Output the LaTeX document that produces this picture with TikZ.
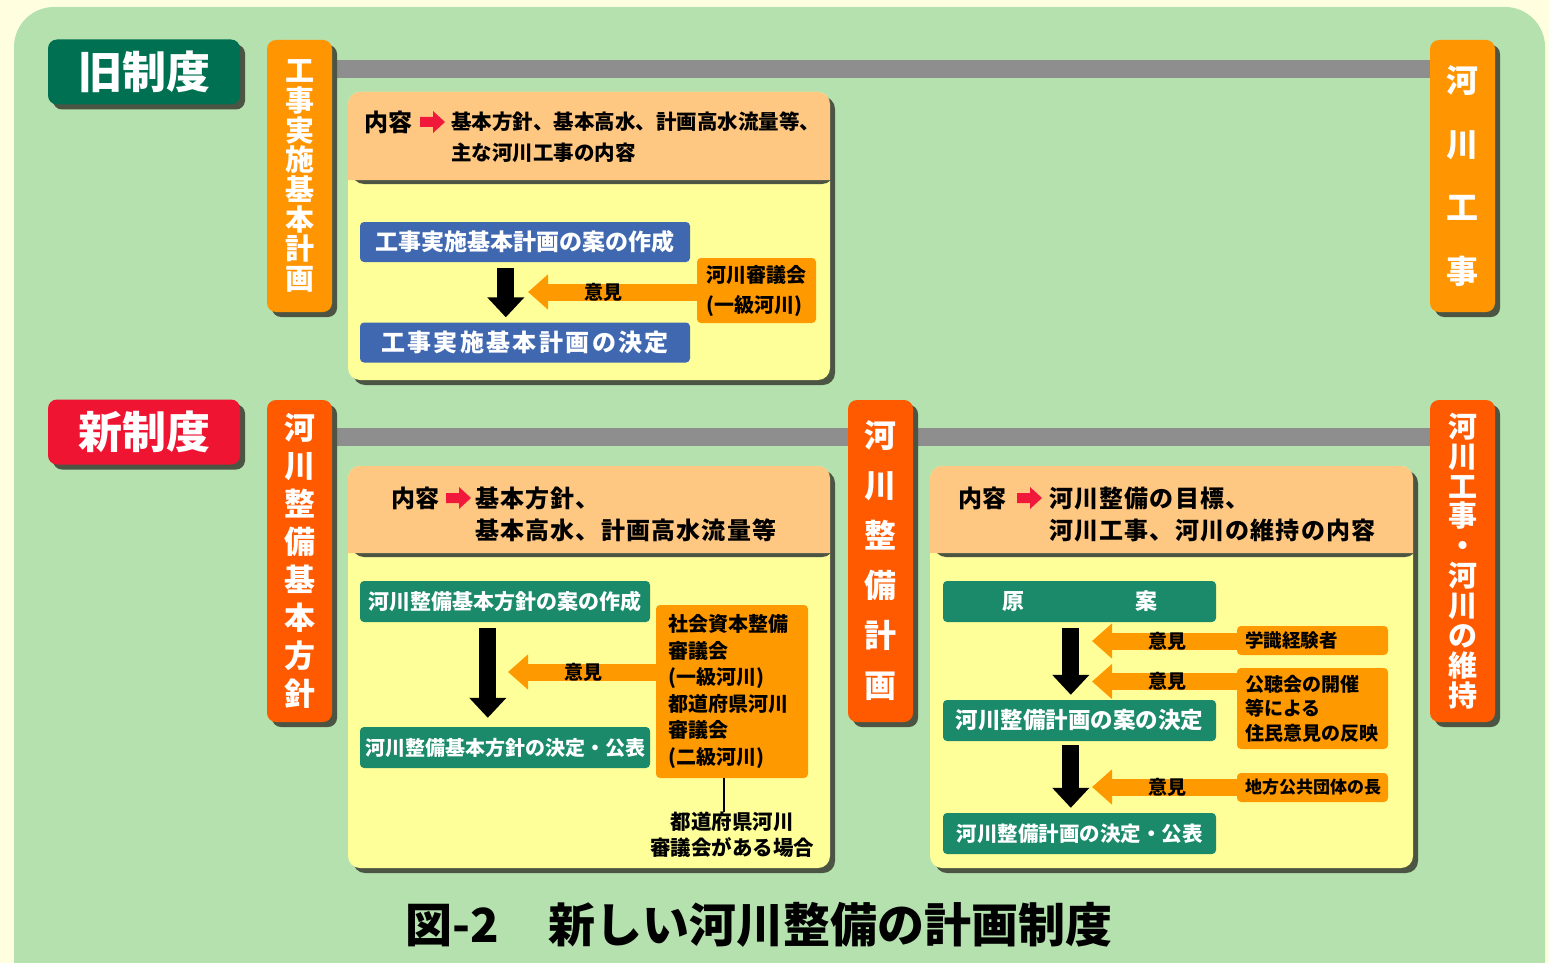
\documentclass[tikz,border=0pt]{standalone}
\usepackage{fontspec}
\setmainfont{Noto Sans CJK JP}
\usetikzlibrary{arrows.meta,shadows}
\definecolor{creamc}{HTML}{FFFFE0}
\definecolor{bgc}{HTML}{B5E1AE}
\definecolor{oldc}{HTML}{007052}
\definecolor{newc}{HTML}{EE1432}
\definecolor{tabo}{HTML}{FF9500}
\definecolor{tabr}{HTML}{FF5A00}
\definecolor{peachc}{HTML}{FFC882}
\definecolor{yelc}{HTML}{FFFF99}
\definecolor{bluec}{HTML}{4068B0}
\definecolor{greenc}{HTML}{1A8A6A}
\definecolor{orc}{HTML}{FF9900}
\definecolor{grayc}{HTML}{8E8E8E}
\definecolor{shadc}{HTML}{4C5544}
\definecolor{redc}{HTML}{F0193C}
\newcommand\fs[2]{\fontsize{#1}{#2}\selectfont}
\newcommand\hdrarrow[2]{\fill[redc] (#1,#2) ++(0,-5) -- ++(13,0) -- ++(0,-6) -- ++(12,11) -- ++(-12,11) -- ++(0,-6) -- ++(-13,0) -- cycle;}
\newcommand\panel[5]{%
  \fill[shadc, rounded corners=12pt] (#1+5,#2+5) rectangle (#3+5,#4+5);
  \fill[yelc, rounded corners=12pt] (#1,#2) rectangle (#3,#4);
  \fill[shadc, rounded corners=12pt] (#1+4,#2+4) rectangle (#3+4,#5+4);
  \fill[peachc] (#1,#5) [rounded corners=12pt] -- (#1,#2) -- (#3,#2) [sharp corners] -- (#3,#5) -- cycle;}
\pgfdeclarelayer{back}
\pgfdeclarelayer{lines}
\pgfsetlayers{back,lines,main}
\tikzset{
 sh/.style={drop shadow={shadow xshift=5pt,shadow yshift=-5pt,opacity=1,fill=shadc}},
 badge/.style={sh, rounded corners=9pt, minimum width=192pt, minimum height=65pt, inner sep=0pt, text=white, font=\fs{44}{44}\bfseries},
 vtab/.style={sh, rounded corners=9pt, minimum width=65pt, inner sep=0pt, text=white, align=center},
 flow/.style={rounded corners=4pt, inner sep=0pt, text=white},
 obox/.style={fill=orc, rounded corners=4pt, inner sep=0pt, align=left},
 karrow/.style={draw=black, line width=17pt, -{Triangle[width=36pt,length=20pt]}},
 oarrow/.style={draw=orc, line width=17pt, -{Triangle[width=34pt,length=20pt]}},
 iken/.style={font=\fs{19}{19}\bfseries, inner sep=0pt},
 hdr/.style={align=left, anchor=west, inner sep=0pt},
 gline/.style={draw=grayc, line width=18pt},
}
\begin{document}
\begin{tikzpicture}[x=1pt,y=-1pt]
\useasboundingbox (0,0) rectangle (1549,963);
\clip (0,0) rectangle (1549,963);
\begin{pgfonlayer}{back}
\fill[creamc] (0,0) rectangle (1549,963);
\fill[bgc, rounded corners=40pt] (14,7) rectangle (1545,1010);
\end{pgfonlayer}

% badges
\node[badge, fill=oldc] (old) at (144,72) {旧制度};
\node[badge, fill=newc] (new) at (144,432) {新制度};

% tabs
\node[vtab, fill=tabo, minimum height=272pt, font=\fs{29}{29.7}\bfseries] (t1) at (299.5,176) {工\\事\\実\\施\\基\\本\\計\\画};
\node[vtab, fill=tabo, minimum height=272pt, font=\fs{32}{63.7}\bfseries] (t2) at (1462.5,176) {河\\川\\工\\事};
\node[vtab, fill=tabr, minimum height=322pt, font=\fs{31}{38}\bfseries] (t3) at (299.5,561) {河\\川\\整\\備\\基\\本\\方\\針};
\node[vtab, fill=tabr, minimum height=322pt, font=\fs{32}{50}\bfseries] (t4) at (880.5,561) {河\\川\\整\\備\\計\\画};
\node[vtab, fill=tabr, minimum height=322pt, font=\fs{29}{29.9}\bfseries] (t5) at (1462.5,561) {河\\川\\工\\事\\・\\河\\川\\の\\維\\持};

\begin{pgfonlayer}{lines}
\draw[gline] ([yshift=-29pt]t1.north east) -- ([yshift=-29pt]t2.north west);
\draw[gline] ([yshift=-37pt]t3.north east) -- ([yshift=-37pt]t4.north west);
\draw[gline] ([yshift=-37pt]t4.north east) -- ([yshift=-37pt]t5.north west);
\end{pgfonlayer}

% ---------- panel 1 (old system)
\panel{348}{92}{830}{380}{180}
\node[hdr, font=\fs{24}{24}\bfseries] (h1a) at (364,122) {内容};
\hdrarrow{420}{122}
\node[hdr, font=\fs{20.5}{31}\bfseries] (h1b) at (451,137.5) {基本方針、基本高水、計画高水流量等、\\主な河川工事の内容};

\node[flow, fill=bluec, minimum width=330pt, minimum height=40pt, font=\fs{23}{23}\bfseries] (b1) at (525,242) {工事実施基本計画の案の作成};
\node[flow, fill=bluec, minimum width=330pt, minimum height=40pt, font=\fs{24}{24}\bfseries\addfontfeature{LetterSpace=10}] (b2) at (525,342.5) {工事実施基本計画の決定};
\node[obox, minimum width=119pt, minimum height=65pt, inner xsep=6pt, font=\fs{20}{30}\bfseries] (c1) at (756.5,290.5) {河川審議会\\(一級河川)};
\draw[karrow] ([xshift=146pt,yshift=-6pt]b1.south west) -- ([xshift=146pt,yshift=5pt]b2.north west);
\coordinate (tip1) at (528,292);
\draw[oarrow] (c1.west |- tip1) -- (tip1);
\node[iken] (ik1) at (603,292) {意見};

% ---------- panel 2 (basic policy)
\panel{348}{466}{830}{868}{553}
\node[hdr, font=\fs{24}{24}\bfseries] (h2a) at (391,498) {内容};
\hdrarrow{446}{498}
\node[hdr, font=\fs{24}{32}\bfseries\addfontfeature{LetterSpace=5}] (h2b) at (475,514) {基本方針、\\基本高水、計画高水流量等};

\node[flow, fill=greenc, minimum width=290pt, minimum height=41pt, font=\fs{21}{21}\bfseries] (g1) at (505,601.5) {河川整備基本方針の案の作成};
\node[flow, fill=greenc, minimum width=290pt, minimum height=41pt, font=\fs{20}{20}\bfseries] (g2) at (505,747.5) {河川整備基本方針の決定・公表};
\node[obox, minimum width=152pt, minimum height=173pt, text width=128pt, inner xsep=12pt, font=\fs{20}{26.6}\bfseries] (c2) at (732,691.5) {社会資本整備\\審議会\\(一級河川)\\都道府県河川\\審議会\\(二級河川)};
\draw[karrow] ([xshift=128pt,yshift=-6pt]g1.south west) -- ([xshift=128pt,yshift=9pt]g2.north west);
\coordinate (tip2) at (508,672);
\draw[oarrow] (c2.west |- tip2) -- (tip2);
\node[iken] (ik2) at (583,672) {意見};
\node[font=\fs{20.5}{26}\bfseries, align=center, inner sep=0pt] (note) at (732,835) {都道府県河川\\審議会がある場合};
\coordinate (ls) at ([xshift=68pt]c2.south west);
\draw[line width=2.5pt] (ls) -- (ls |- note.north);

% ---------- panel 3 (river improvement plan)
\panel{930}{466}{1413}{868}{553}
\node[hdr, font=\fs{24}{24}\bfseries] (h3a) at (958,498) {内容};
\hdrarrow{1017}{498}
\node[hdr, font=\fs{24}{32}\bfseries\addfontfeature{LetterSpace=5}] (h3b) at (1049,514) {河川整備の目標、\\河川工事、河川の維持の内容};

\node[flow, fill=greenc, minimum width=273pt, minimum height=41pt, font=\fs{22}{22}\bfseries] (r1) at (1079.5,601.5) {原\hspace{111pt}案};
\node[flow, fill=greenc, minimum width=273pt, minimum height=41pt, font=\fs{22.5}{22.5}\bfseries] (r2) at (1079.5,720.5) {河川整備計画の案の決定};
\node[flow, fill=greenc, minimum width=273pt, minimum height=41pt, font=\fs{20.5}{20.5}\bfseries] (r3) at (1079.5,833.5) {河川整備計画の決定・公表};
\draw[karrow] ([xshift=128pt,yshift=-6pt]r1.south west) -- ([xshift=128pt,yshift=5pt]r2.north west);
\draw[karrow] ([xshift=128pt,yshift=-4pt]r2.south west) -- ([xshift=128pt,yshift=5pt]r3.north west);

\node[obox, minimum width=151pt, minimum height=29pt, text width=135pt, inner xsep=8pt, font=\fs{18.5}{18.5}\bfseries] (o1) at (1312.5,640.5) {学識経験者};
\node[obox, minimum width=151pt, minimum height=81pt, text width=135pt, inner xsep=8pt, font=\fs{19}{24.5}\bfseries] (o2) at (1312.5,708.5) {公聴会の開催\\等による\\住民意見の反映};
\node[obox, minimum width=151pt, minimum height=29pt, text width=135pt, inner xsep=8pt, font=\fs{17}{17}\bfseries] (o3) at (1312.5,787.5) {地方公共団体の長};
\coordinate (tip3) at (1092,641);
\coordinate (tip4) at (1092,681.5);
\coordinate (tip5) at (1092,787);
\draw[oarrow] (o1.west |- tip3) -- (tip3);
\draw[oarrow] (o2.west |- tip4) -- (tip4);
\draw[oarrow] (o3.west |- tip5) -- (tip5);
\node[iken] (ik3) at (1167,641) {意見};
\node[iken] (ik4) at (1167,681.5) {意見};
\node[iken] (ik5) at (1167,787) {意見};

% title
\node[font=\fs{47}{47}\bfseries, anchor=west, inner sep=0pt] (title) at (405,925) {図-2\hspace{50pt}新しい河川整備の計画制度};
\end{tikzpicture}
\end{document}
